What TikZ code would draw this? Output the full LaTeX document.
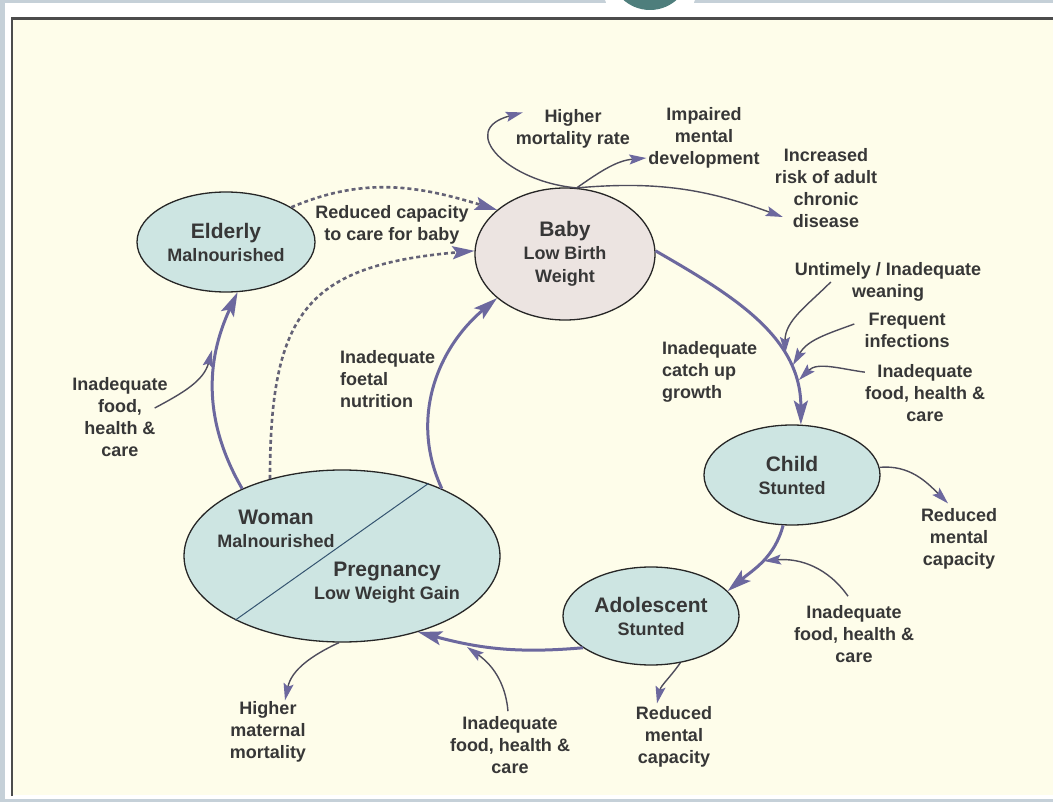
\documentclass[tikz,border=0pt]{standalone}
\usepackage{fontspec}
\setmainfont{Liberation Sans}
\usetikzlibrary{shapes.geometric,positioning,arrows.meta}

\definecolor{framebg}{RGB}{197,208,216}
\definecolor{paper}{RGB}{254,253,234}
\definecolor{stagefill}{RGB}{205,229,226}
\definecolor{babyfill}{RGB}{236,228,225}
\definecolor{arrowc}{RGB}{108,104,158}
\definecolor{thinc}{RGB}{78,76,92}
\definecolor{dotc}{RGB}{100,98,118}
\definecolor{inkc}{RGB}{55,55,55}
\definecolor{knob}{RGB}{78,126,124}
\definecolor{splitc}{RGB}{52,84,112}

\newcommand{\stagelabel}[2]{{\fontsize{21}{23}\selectfont #1}\\#2}

\begin{document}
\begin{tikzpicture}[x=1pt,y=-1pt,on grid,
  stage/.style={ellipse,draw=black!85,line width=1.3pt,fill=stagefill,
    inner sep=0pt,align=center,text=inkc,font=\bfseries\fontsize{18}{23}\selectfont},
  note/.style={align=center,inner sep=0pt,text=inkc,font=\bfseries\fontsize{18}{22}\selectfont},
  cyc/.style={arrowc,line width=3pt,-{Stealth[length=24pt,width=14pt,inset=5pt]}},
  side/.style={thinc,line width=1.4pt,-{Stealth[length=17pt,width=10pt,inset=3pt,color=arrowc]}},
  dots/.style={dotc,line width=2.6pt,dash pattern=on 4pt off 3pt,
    -{Stealth[length=22pt,width=13pt,inset=4pt,color=arrowc]}}]

% frame
\useasboundingbox (0,0) rectangle (1053,802);
\fill[framebg] (0,0) rectangle (1053,802);
\fill[white] (5,3) rectangle (1053,799);
\fill[white] (650,-14) circle[radius=47];
\fill[knob] (650,-30) circle[radius=40];
\fill[paper] (12,19) rectangle (1053,795);
\draw[black!70,line width=2.5pt] (12,796) -- (12,18.5) -- (1053,18.5);

% stages of the cycle
\node[stage,fill=babyfill,minimum width=180pt,minimum height=132pt] (baby) at (565,254) {\stagelabel{Baby}{Low Birth\\Weight}};
\node[stage,minimum width=176pt,minimum height=100pt] (child) [below right=221pt and 227pt of baby] {\stagelabel{Child}{Stunted}};
\node[stage,minimum width=176pt,minimum height=98pt] (adol) [below left=141pt and 141pt of child] {\stagelabel{Adolescent}{Stunted}};
\node[stage,minimum width=316pt,minimum height=172pt] (woman) [above left=60pt and 309pt of adol] {};
\node[stage,minimum width=178pt,minimum height=100pt] (elderly) [above left=314pt and 116pt of woman] {\stagelabel{Elderly}{Malnourished}};
\draw[splitc,line width=1pt] (woman.40) -- (woman.-149);
\node[note,font=\bfseries\fontsize{18}{23}\selectfont] (womantxt) at (276,529) {\stagelabel{Woman}{Malnourished}};
\node[note,font=\bfseries\fontsize{18}{23}\selectfont] (pregtxt) at (387,583) {\stagelabel{Pregnancy}{Low Weight Gain}};

% labels
\node[note] (capacity) at (392,225) {Reduced capacity\\to care for baby};
\node[note,align=left,anchor=west] (catchup) at (662,372) {Inadequate\\catch up\\growth};
\node[note,align=left,anchor=west] (foetal) at (340,379) {Inadequate\\foetal\\nutrition};
\node[note] (leftcare) at (120,417) {Inadequate\\food,\\health \&\\care};
\node[note] (mort) at (573,129) {Higher\\mortality rate};
\node[note] (mental) at (704,138) {Impaired\\mental\\development};
\node[note] (chronic) at (826,188) {Increased\\risk of adult\\chronic\\disease};
\node[note] (wean) at (888,282) {Untimely / Inadequate\\weaning};
\node[note] (infect) at (907,330) {Frequent\\infections};
\node[note] (childcare) at (925,393) {Inadequate\\food, health \&\\care};
\node[note] (childmind) at (959,539) {Reduced\\mental\\capacity};
\node[note] (adolcare) at (854,634) {Inadequate\\food, health \&\\care};
\node[note] (adolmind) at (674,737) {Reduced\\mental\\capacity};
\node[note] (womancare) at (510,745) {Inadequate\\food, health \&\\care};
\node[note] (maternal) at (268,732) {Higher\\maternal\\mortality};

% where the side arrows meet the cycle
\coordinate (weantip) at (785,354);
\coordinate (infecttip) at (793,365);
\coordinate (childcaretip) at (799,380);
\coordinate (adolcaretip) at (764,561);
\coordinate (womancaretip) at (467,647);
\coordinate (leftcaretip) at (212,350);

\path[cyc]
(baby.2) edge[out=-30,in=90] (child.80)
(child.-100) edge[out=-105,in=40] (adol.18)
(adol.-155) edge[out=185,in=-15] (woman.-45)
(woman.34) edge[out=115,in=-140] (baby.-147)
(woman.146) edge[out=120,in=-115] (elderly.-77);

\path[dots]
(elderly.28) edge[out=23,in=163] (baby.147)
(woman.133) edge[out=90,in=185,looseness=1.4] (baby.178);

\path[side]
(baby.80) edge[out=175,in=-165,looseness=1.9] ([shift={(7,3)}]mort.north west)
          edge[out=35,in=185] ([shift={(-2,20)}]mental.west)
          edge[out=5,in=160] ([shift={(8,29)}]chronic.west)
(child.5) edge[out=5,in=135] ([shift={(-11,-5)}]childmind.north)
(adol.-58) edge[out=-125,in=78] ([shift={(-17,-3)}]adolmind.north)
(woman.-92) edge[out=-155,in=78] ([shift={(17,-1)}]maternal.north)
([shift={(36,0)}]wean.west) edge[out=-135,in=90] (weantip)
([shift={(-10,-6)}]infect.west) edge[out=-160,in=60] (infecttip)
([shift={(0,8)}]childcare.north west) edge[out=172,in=45] (childcaretip)
([shift={(-6,-9)}]adolcare.north) edge[out=125,in=5] (adolcaretip)
([shift={(-2,-5)}]womancare.north) edge[out=95,in=-35] (womancaretip)
([shift={(-13,-9)}]leftcare.east) edge[out=28,in=-105] (leftcaretip);
\end{tikzpicture}
\end{document}
